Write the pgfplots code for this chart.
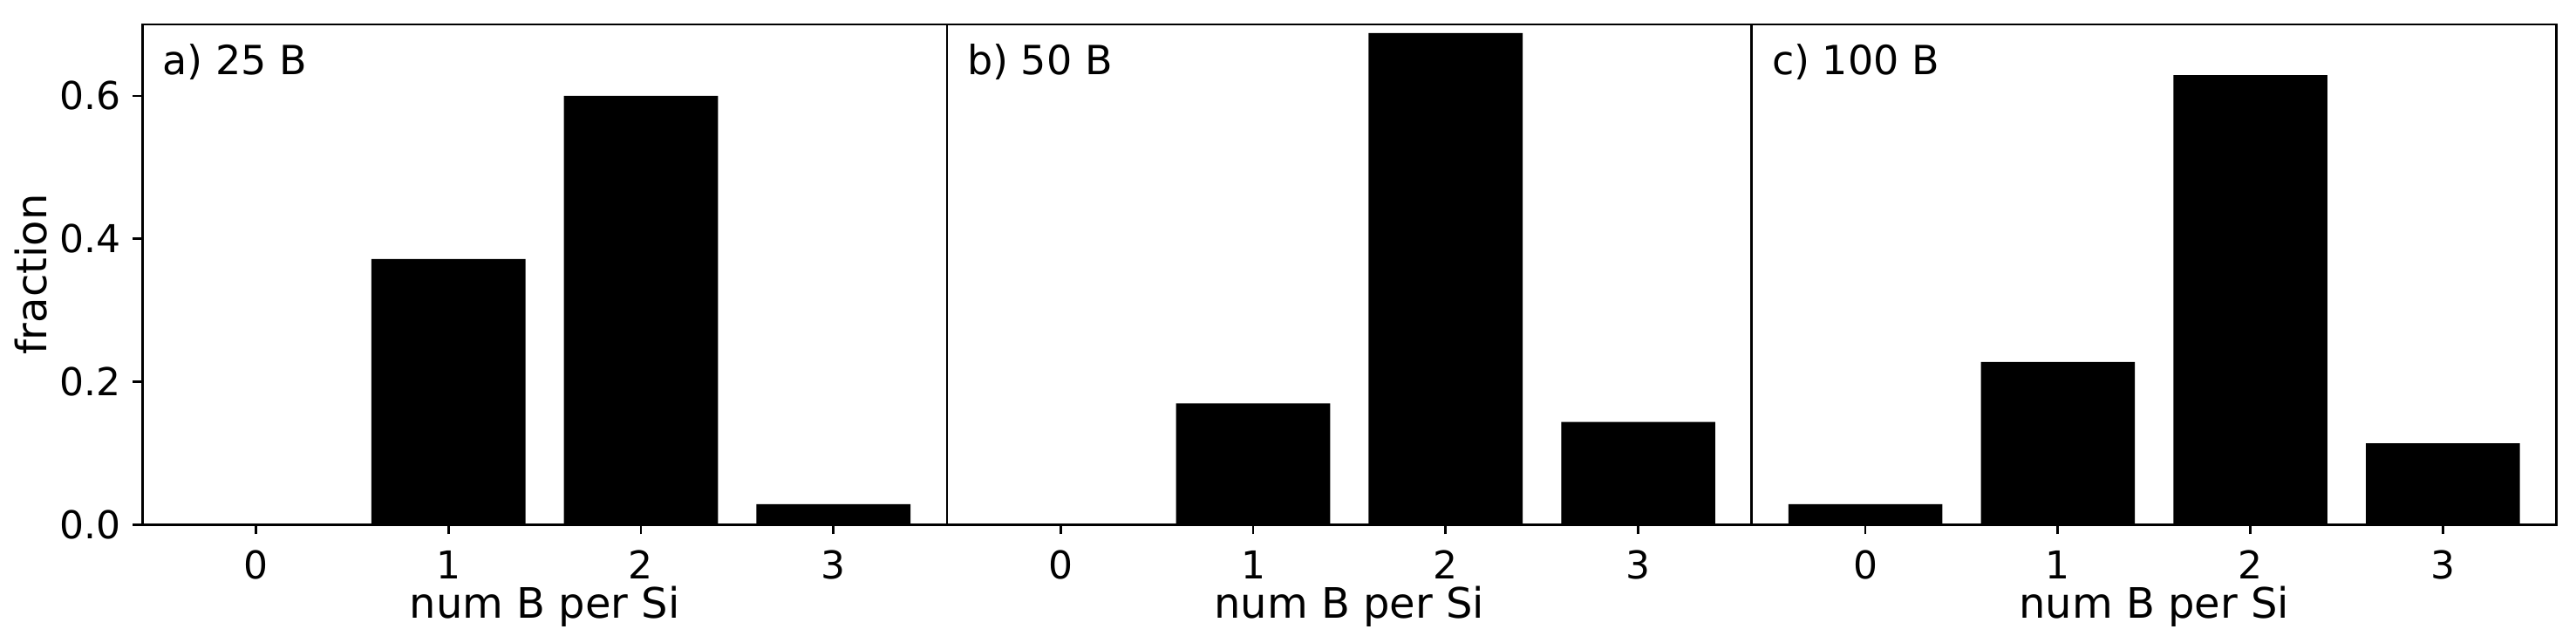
\documentclass[border=0pt]{standalone}
\usepackage{pgfplots}
\pgfplotsset{compat=1.18}
\usepackage{fontspec}
\setmainfont{DejaVu Sans}

\pgfplotsset{
  panel/.style={
    scale only axis, width=230.7pt, height=143.4pt,
    xmin=-0.59, xmax=3.59, ymin=0, ymax=0.7,
    clip=false,
    xtick={0,1,2,3},
    tick align=outside,
    xtick pos=bottom, ytick pos=left,
    major tick length=2.7pt,
    axis line style={line width=0.7pt, black},
    every tick/.style={black, line width=0.7pt},
    ticklabel style={font=\fontsize{11}{13}\selectfont},
    /pgf/number format/assume math mode=true,
    yticklabel style={/pgf/number format/fixed, /pgf/number format/fixed zerofill, /pgf/number format/precision=1},
    xticklabel style={anchor=base, yshift=-12.9pt},
    xlabel={num B per Si},
    xlabel style={at={(rel axis cs:0.5,0)}, anchor=base, yshift=-26.7pt, font=\fontsize{12}{14}\selectfont},
    ybar, bar width=0.8,
  },
}
\tikzset{
  tag/.style={anchor=base west, inner sep=0pt, xshift=5.6pt, yshift=-14.25pt, font=\fontsize{11.5}{14}\selectfont},
}

\pgfplotstableread{
x y
0 0.000
1 0.372
2 0.600
3 0.029
}\tableA
\pgfplotstableread{
x y
0 0.000
1 0.170
2 0.688
3 0.144
}\tableB
\pgfplotstableread{
x y
0 0.029
1 0.228
2 0.629
3 0.114
}\tableC

\begin{document}
\begin{tikzpicture}
\useasboundingbox (-40.8pt,-33.85pt) rectangle (697.7pt,150.4pt);

\begin{axis}[panel, at={(0pt,0pt)}, anchor=south west,
  ytick={0,0.2,0.4,0.6}]
\addplot[fill=black, draw=none] table[x=x,y=y] {\tableA};
\node[tag] at (rel axis cs:0,1) {a) 25 B};
\end{axis}
\node[rotate=90, anchor=base, font=\fontsize{12}{14}\selectfont] at (-27.3pt,71.7pt) {fraction};

\begin{axis}[panel, at={(230.7pt,0pt)}, anchor=south west,
  ytick=\empty]
\addplot[fill=black, draw=none] table[x=x,y=y] {\tableB};
\node[tag] at (rel axis cs:0,1) {b) 50 B};
\end{axis}

\begin{axis}[panel, at={(461.4pt,0pt)}, anchor=south west,
  ytick=\empty]
\addplot[fill=black, draw=none] table[x=x,y=y] {\tableC};
\node[tag] at (rel axis cs:0,1) {c) 100 B};
\end{axis}
\end{tikzpicture}
\end{document}
